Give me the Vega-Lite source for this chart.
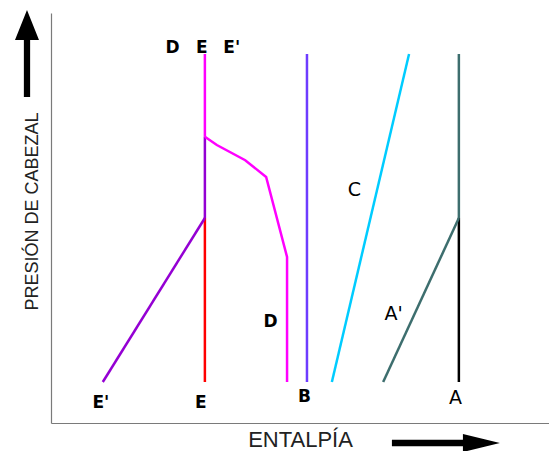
{
  "$schema": "https://vega.github.io/schema/vega-lite/v6.json",
  "width": 498,
  "height": 410,
  "autosize": {"type": "none"},
  "padding": {"left": 51, "top": 13, "right": 0, "bottom": 28},
  "background": "white",
  "config": {
    "view": {"stroke": null},
    "font": "Liberation Sans",
    "axis": {"grid": false, "ticks": false, "labels": false, "domainColor": "#7a7a7a", "domainWidth": 1.2, "titleFont": "Liberation Sans", "titleFontWeight": "normal", "titleColor": "#222222"}
  },
  "datasets": {
    "curvas": [
      {"serie": "E-sup", "i": 1, "h": 30.9, "p": 90},
      {"serie": "E-sup", "i": 2, "h": 30.9, "p": 69.8},
      {"serie": "E-med", "i": 1, "h": 30.9, "p": 69.8},
      {"serie": "E-med", "i": 2, "h": 30.9, "p": 50},
      {"serie": "E-inf", "i": 1, "h": 30.9, "p": 50},
      {"serie": "E-inf", "i": 2, "h": 30.9, "p": 10},
      {"serie": "D", "i": 1, "h": 30.9, "p": 69.8},
      {"serie": "D", "i": 2, "h": 33.3, "p": 67.8},
      {"serie": "D", "i": 3, "h": 39.0, "p": 64.1},
      {"serie": "D", "i": 4, "h": 43.2, "p": 60.0},
      {"serie": "D", "i": 5, "h": 47.4, "p": 40.5},
      {"serie": "D", "i": 6, "h": 47.4, "p": 10},
      {"serie": "E'", "i": 1, "h": 10.4, "p": 10},
      {"serie": "E'", "i": 2, "h": 30.9, "p": 50},
      {"serie": "B", "i": 1, "h": 51.4, "p": 10},
      {"serie": "B", "i": 2, "h": 51.4, "p": 90},
      {"serie": "C", "i": 1, "h": 56.4, "p": 10},
      {"serie": "C", "i": 2, "h": 71.9, "p": 90},
      {"serie": "A-sup", "i": 1, "h": 81.9, "p": 50},
      {"serie": "A-sup", "i": 2, "h": 81.9, "p": 90},
      {"serie": "A-inf", "i": 1, "h": 81.9, "p": 10},
      {"serie": "A-inf", "i": 2, "h": 81.9, "p": 50},
      {"serie": "A'", "i": 1, "h": 66.7, "p": 10},
      {"serie": "A'", "i": 2, "h": 81.9, "p": 50}
    ],
    "etiquetas": [
      {"texto": "D", "h": 24.4, "p": 91.5},
      {"texto": "E", "h": 30.3, "p": 91.5},
      {"texto": "E'", "h": 36.3, "p": 91.5},
      {"texto": "C", "h": 60.9, "p": 56.8},
      {"texto": "D", "h": 44.1, "p": 24.6},
      {"texto": "A'", "h": 68.8, "p": 26.6},
      {"texto": "E'", "h": 10.0, "p": 4.9},
      {"texto": "E", "h": 30.1, "p": 4.9},
      {"texto": "B", "h": 50.9, "p": 6.3},
      {"texto": "A", "h": 81.2, "p": 6.0}
    ],
    "flechas": [
      {"eje": "presión", "h": -4.82, "p": 90.1},
      {"eje": "entalpía", "h": 79.3, "p": -4.88}
    ]
  },
  "encoding": {
    "x": {"field": "h", "type": "quantitative", "scale": {"domain": [0, 100], "nice": false, "zero": false}, "axis": {"title": "ENTALPÍA", "titleFontSize": 22, "titlePadding": 6}},
    "y": {"field": "p", "type": "quantitative", "scale": {"domain": [0, 100], "nice": false, "zero": false}, "axis": {"title": "PRESIÓN DE CABEZAL", "titleFontSize": 18, "titlePadding": 10, "titleY": 198}}
  },
  "layer": [
    {
      "data": {"name": "curvas"},
      "mark": {"type": "line", "strokeWidth": 2.5, "strokeCap": "butt"},
      "encoding": {
        "detail": {"field": "serie"},
        "order": {"field": "i", "type": "quantitative"},
        "color": {
          "field": "serie", "type": "nominal", "legend": null,
          "scale": {
            "domain": ["E-sup", "E-med", "E-inf", "D", "E'", "B", "C", "A-sup", "A-inf", "A'"],
            "range": ["#ff00ff", "#9400d3", "#ff0000", "#ff00ff", "#9400d3", "#6e3cff", "#00ccff", "#3d6e6e", "#000000", "#3d6e6e"]
          }
        }
      }
    },
    {
      "data": {"name": "etiquetas"},
      "transform": [{"filter": {"field": "texto", "oneOf": ["D", "E", "E'", "B"]}}],
      "mark": {"type": "text", "font": "DejaVu Sans", "fontSize": 17, "fontWeight": "bold", "align": "center", "baseline": "middle", "color": "#000000"},
      "encoding": {"text": {"field": "texto"}}
    },
    {
      "data": {"name": "etiquetas"},
      "transform": [{"filter": {"field": "texto", "oneOf": ["A", "A'", "C"]}}],
      "mark": {"type": "text", "font": "DejaVu Sans", "fontSize": 19, "fontWeight": "normal", "align": "center", "baseline": "middle", "color": "#000000"},
      "encoding": {"text": {"field": "texto"}}
    },
    {
      "data": {"name": "flechas"},
      "mark": {"type": "point", "filled": true, "opacity": 1, "color": "#000000", "strokeWidth": 0, "size": 11664},
      "encoding": {
        "shape": {
          "field": "eje", "type": "nominal", "legend": null,
          "scale": {
            "domain": ["presión", "entalpía"],
            "range": ["M0,-0.806L0.222,-0.25L0.058,-0.25L0.058,0.806L-0.058,0.806L-0.058,-0.25L-0.222,-0.25Z", "M1,0L0.315,-0.167L0.315,-0.062L-1,-0.062L-1,0.062L0.315,0.062L0.315,0.167Z"]
          }
        }
      }
    }
  ]
}
